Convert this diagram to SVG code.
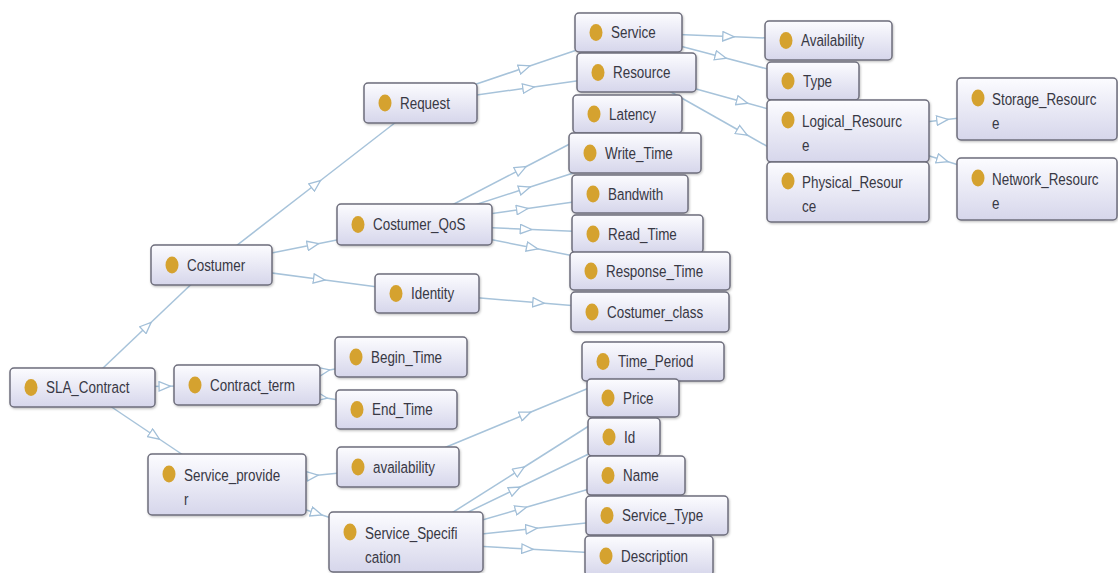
<svg xmlns="http://www.w3.org/2000/svg" width="1118" height="573" viewBox="0 0 1118 573">
<defs>
<linearGradient id="box" x1="0" y1="0" x2="0" y2="1">
<stop offset="0" stop-color="#fcfcff"/>
<stop offset="1" stop-color="#d6d6eb"/>
</linearGradient>
<filter id="sh" x="-5%" y="-10%" width="110%" height="125%">
<feDropShadow dx="0.8" dy="1.2" stdDeviation="0.8" flood-color="#000" flood-opacity="0.25"/>
</filter>
<marker id="arr" viewBox="0 0 13 11" refX="6.5" refY="5.5" markerWidth="13" markerHeight="11" markerUnits="userSpaceOnUse" orient="auto">
<path d="M0.8,0.8 L12.2,5.5 L0.8,10.2 Z" fill="#ffffff" stroke="#a2bfd8" stroke-width="1.3"/>
</marker>
</defs>
<style>
.e{fill:none;stroke:#a7c3da;stroke-width:1.5;marker-mid:url(#arr)}
.b{fill:url(#box);stroke:#6e6e7c;stroke-width:1.5;filter:url(#sh)}
.d{fill:#d5a22f}
.t{font-family:"Liberation Sans",Arial,sans-serif;font-size:17px;fill:#383844;transform-box:fill-box;transform-origin:0 0;transform:scaleX(0.79)}
</style>
<rect width="1118" height="573" fill="#ffffff"/>
<g id="connectors">
<path class="e" d="M82.5,387.5 L147,326.25 L211.5,265"/>
<path class="e" d="M82.5,387.5 L164.75,386.25 L247,385"/>
<path class="e" d="M82.5,387.5 L154.75,436 L227,484.5"/>
<path class="e" d="M211.5,265 L316,184 L420.5,103"/>
<path class="e" d="M211.5,265 L313,244.75 L414.5,224.5"/>
<path class="e" d="M211.5,265 L319.25,279.25 L427,293.5"/>
<path class="e" d="M420.5,103 L524.5,67.75 L628.5,32.5"/>
<path class="e" d="M420.5,103 L528.5,87.75 L636.5,72.5"/>
<path class="e" d="M628.5,32.5 L728.5,36.5 L828.5,40.5"/>
<path class="e" d="M628.5,32.5 L720.75,56.75 L813,81"/>
<path class="e" d="M636.5,72.5 L742.25,101.75 L848,131"/>
<path class="e" d="M636.5,72.5 L742.25,132.25 L848,192"/>
<path class="e" d="M848,131 L942.5,120 L1037,109"/>
<path class="e" d="M848,131 L942.5,160 L1037,189"/>
<path class="e" d="M414.5,224.5 L521,169.25 L627.5,114"/>
<path class="e" d="M414.5,224.5 L524.75,188.75 L635,153"/>
<path class="e" d="M414.5,224.5 L522.25,209.25 L630,194"/>
<path class="e" d="M414.5,224.5 L526,229.25 L637.5,234"/>
<path class="e" d="M414.5,224.5 L532.25,247.75 L650,271"/>
<path class="e" d="M427,293.5 L538.5,302.75 L650,312"/>
<path class="e" d="M247,385 L324,371 L401,357"/>
<path class="e" d="M247,385 L321.75,397.25 L396.5,409.5"/>
<path class="e" d="M227,484.5 L312.5,475.75 L398,467"/>
<path class="e" d="M227,484.5 L316.5,513.25 L406,542"/>
<path class="e" d="M398,467 L525.5,414.25 L653,361.5"/>
<path class="e" d="M406,542 L519.5,470 L633,398"/>
<path class="e" d="M406,542 L515,489.5 L624,437"/>
<path class="e" d="M406,542 L521,508.75 L636,475.5"/>
<path class="e" d="M406,542 L531.5,528.75 L657,515.5"/>
<path class="e" d="M406,542 L527.5,549 L649,556"/>
</g>
<g id="SLA_Contract"><rect class="b" x="10" y="368" width="145" height="39" rx="4"/><ellipse class="d" cx="31" cy="387.5" rx="6.5" ry="8.5"/><text class="t" x="46" y="393.5">SLA_Contract</text></g>
<g id="Costumer"><rect class="b" x="151" y="245" width="121" height="40" rx="4"/><ellipse class="d" cx="172" cy="265" rx="6.5" ry="8.5"/><text class="t" x="187" y="271">Costumer</text></g>
<g id="Contract_term"><rect class="b" x="174" y="365" width="146" height="40" rx="4"/><ellipse class="d" cx="195" cy="385" rx="6.5" ry="8.5"/><text class="t" x="210" y="391">Contract_term</text></g>
<g id="Service_provider"><rect class="b" x="148" y="454" width="158" height="61" rx="4"/><ellipse class="d" cx="169" cy="474" rx="6.5" ry="8.5"/><text class="t" x="184" y="481">Service_provide</text><text class="t" x="184" y="505">r</text></g>
<g id="Request"><rect class="b" x="364" y="83" width="113" height="40" rx="4"/><ellipse class="d" cx="385" cy="103" rx="6.5" ry="8.5"/><text class="t" x="400" y="109">Request</text></g>
<g id="Costumer_QoS"><rect class="b" x="337" y="204" width="155" height="41" rx="4"/><ellipse class="d" cx="358" cy="224.5" rx="6.5" ry="8.5"/><text class="t" x="373" y="230.5">Costumer_QoS</text></g>
<g id="Identity"><rect class="b" x="375" y="274" width="104" height="39" rx="4"/><ellipse class="d" cx="396" cy="293.5" rx="6.5" ry="8.5"/><text class="t" x="411" y="299.5">Identity</text></g>
<g id="Begin_Time"><rect class="b" x="335" y="337" width="132" height="40" rx="4"/><ellipse class="d" cx="356" cy="357" rx="6.5" ry="8.5"/><text class="t" x="371" y="363">Begin_Time</text></g>
<g id="End_Time"><rect class="b" x="336" y="390" width="121" height="39" rx="4"/><ellipse class="d" cx="357" cy="409.5" rx="6.5" ry="8.5"/><text class="t" x="372" y="415.5">End_Time</text></g>
<g id="availability"><rect class="b" x="337" y="447" width="122" height="40" rx="4"/><ellipse class="d" cx="358" cy="467" rx="6.5" ry="8.5"/><text class="t" x="373" y="473">availability</text></g>
<g id="Service_Specification"><rect class="b" x="329" y="512" width="154" height="60" rx="4"/><ellipse class="d" cx="350" cy="532" rx="6.5" ry="8.5"/><text class="t" x="365" y="539">Service_Specifi</text><text class="t" x="365" y="563">cation</text></g>
<g id="Service"><rect class="b" x="575" y="13" width="107" height="39" rx="4"/><ellipse class="d" cx="596" cy="32.5" rx="6.5" ry="8.5"/><text class="t" x="611" y="38.5">Service</text></g>
<g id="Resource"><rect class="b" x="577" y="53" width="119" height="39" rx="4"/><ellipse class="d" cx="598" cy="72.5" rx="6.5" ry="8.5"/><text class="t" x="613" y="78.5">Resource</text></g>
<g id="Latency"><rect class="b" x="573" y="95" width="109" height="38" rx="4"/><ellipse class="d" cx="594" cy="114" rx="6.5" ry="8.5"/><text class="t" x="609" y="120">Latency</text></g>
<g id="Write_Time"><rect class="b" x="569" y="133" width="132" height="40" rx="4"/><ellipse class="d" cx="590" cy="153" rx="6.5" ry="8.5"/><text class="t" x="605" y="159">Write_Time</text></g>
<g id="Bandwith"><rect class="b" x="572" y="175" width="116" height="38" rx="4"/><ellipse class="d" cx="593" cy="194" rx="6.5" ry="8.5"/><text class="t" x="608" y="200">Bandwith</text></g>
<g id="Read_Time"><rect class="b" x="572" y="215" width="131" height="38" rx="4"/><ellipse class="d" cx="593" cy="234" rx="6.5" ry="8.5"/><text class="t" x="608" y="240">Read_Time</text></g>
<g id="Response_Time"><rect class="b" x="570" y="252" width="160" height="38" rx="4"/><ellipse class="d" cx="591" cy="271" rx="6.5" ry="8.5"/><text class="t" x="606" y="277">Response_Time</text></g>
<g id="Costumer_class"><rect class="b" x="571" y="292" width="158" height="40" rx="4"/><ellipse class="d" cx="592" cy="312" rx="6.5" ry="8.5"/><text class="t" x="607" y="318">Costumer_class</text></g>
<g id="Time_Period"><rect class="b" x="582" y="342" width="142" height="39" rx="4"/><ellipse class="d" cx="603" cy="361.5" rx="6.5" ry="8.5"/><text class="t" x="618" y="367.5">Time_Period</text></g>
<g id="Price"><rect class="b" x="587" y="379" width="92" height="38" rx="4"/><ellipse class="d" cx="608" cy="398" rx="6.5" ry="8.5"/><text class="t" x="623" y="404">Price</text></g>
<g id="Id"><rect class="b" x="588" y="418" width="72" height="38" rx="4"/><ellipse class="d" cx="609" cy="437" rx="6.5" ry="8.5"/><text class="t" x="624" y="443">Id</text></g>
<g id="Name"><rect class="b" x="587" y="456" width="98" height="39" rx="4"/><ellipse class="d" cx="608" cy="475.5" rx="6.5" ry="8.5"/><text class="t" x="623" y="481.5">Name</text></g>
<g id="Service_Type"><rect class="b" x="586" y="496" width="142" height="39" rx="4"/><ellipse class="d" cx="607" cy="515.5" rx="6.5" ry="8.5"/><text class="t" x="622" y="521.5">Service_Type</text></g>
<g id="Description"><rect class="b" x="585" y="536" width="128" height="40" rx="4"/><ellipse class="d" cx="606" cy="556" rx="6.5" ry="8.5"/><text class="t" x="621" y="562">Description</text></g>
<g id="Availability"><rect class="b" x="765" y="21" width="127" height="39" rx="4"/><ellipse class="d" cx="786" cy="40.5" rx="6.5" ry="8.5"/><text class="t" x="801" y="46.5">Availability</text></g>
<g id="Type"><rect class="b" x="767" y="62" width="92" height="38" rx="4"/><ellipse class="d" cx="788" cy="81" rx="6.5" ry="8.5"/><text class="t" x="803" y="87">Type</text></g>
<g id="Logical_Resource"><rect class="b" x="767" y="100" width="162" height="62" rx="4"/><ellipse class="d" cx="788" cy="120" rx="6.5" ry="8.5"/><text class="t" x="802" y="127">Logical_Resourc</text><text class="t" x="802" y="151">e</text></g>
<g id="Physical_Resource"><rect class="b" x="767" y="162" width="162" height="60" rx="4"/><ellipse class="d" cx="788" cy="181" rx="6.5" ry="8.5"/><text class="t" x="802" y="188">Physical_Resour</text><text class="t" x="802" y="212">ce</text></g>
<g id="Storage_Resource"><rect class="b" x="957" y="78" width="160" height="62" rx="4"/><ellipse class="d" cx="978" cy="98" rx="6.5" ry="8.5"/><text class="t" x="992" y="105">Storage_Resourc</text><text class="t" x="992" y="129">e</text></g>
<g id="Network_Resource"><rect class="b" x="957" y="158" width="160" height="62" rx="4"/><ellipse class="d" cx="978" cy="178" rx="6.5" ry="8.5"/><text class="t" x="992" y="185">Network_Resourc</text><text class="t" x="992" y="209">e</text></g>
</svg>
